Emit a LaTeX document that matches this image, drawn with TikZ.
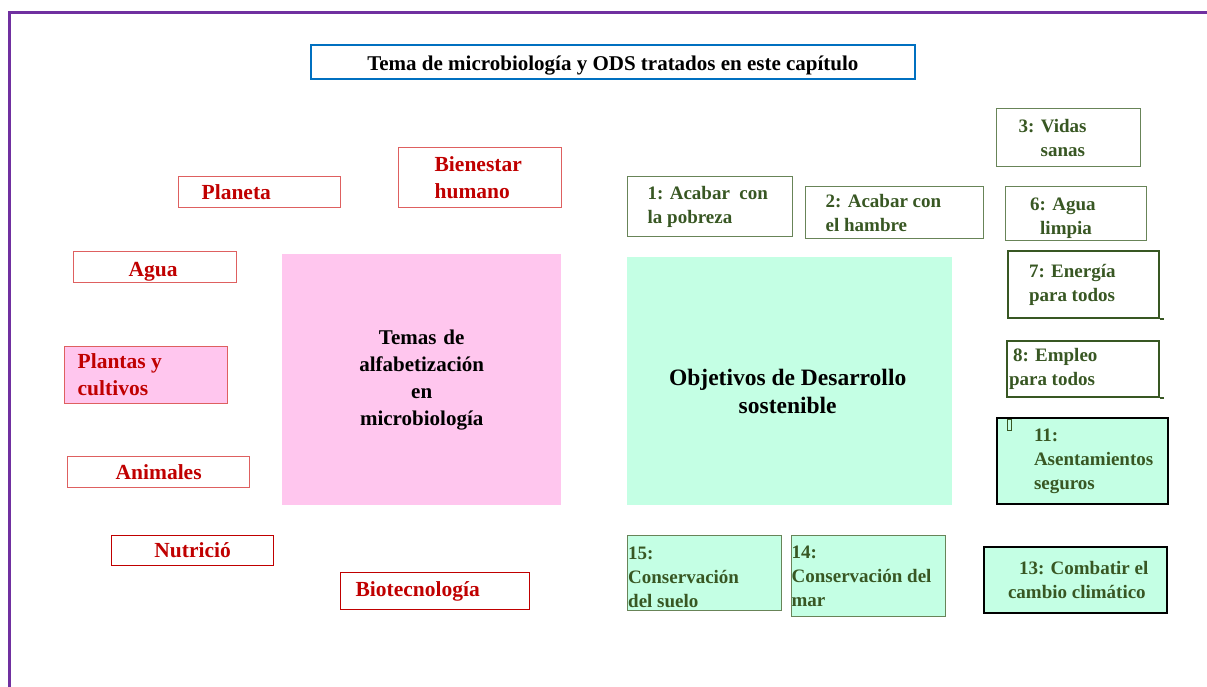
\documentclass[tikz,border=0pt]{standalone}
\usepackage{fontspec}
\setmainfont{Liberation Serif}
\usetikzlibrary{calc}
\definecolor{frame}{RGB}{112,48,160}
\definecolor{titleblue}{RGB}{0,112,192}
\definecolor{redtxt}{RGB}{192,0,0}
\definecolor{redline}{RGB}{222,96,96}
\definecolor{pinkfill}{RGB}{255,198,238}
\definecolor{mint}{RGB}{196,255,228}
\definecolor{greentxt}{RGB}{56,87,35}
\definecolor{greenline}{RGB}{104,132,88}
\tikzset{
  box/.style={draw, rectangle, anchor=north west, inner sep=0pt, font=\bfseries},
  txt/.style={inner sep=0pt, font=\bfseries},
  redfont/.style={text=redtxt, font=\fontsize{21.5}{27}\selectfont\bfseries},
  redbox/.style={box, draw=redline, line width=1.3pt, redfont},
  darkredbox/.style={redbox, draw=redtxt},
  greenfont/.style={text=greentxt, font=\fontsize{19}{24}\selectfont\bfseries},
  greenbox/.style={box, draw=greenline, line width=1.3pt, greenfont},
  darkgreenbox/.style={greenbox, draw=greentxt, line width=2pt},
  mintbox/.style={greenbox, fill=mint},
  blackmint/.style={greenbox, fill=mint, draw=black, line width=2pt},
  overhang/.style={draw=greentxt, line width=2pt},
}
\begin{document}
\begin{tikzpicture}[x=1pt,y=-1pt]
\useasboundingbox (0,0) rectangle (1207,686);
\begin{scope}
\clip (0,0) rectangle (1207,686);
\draw[frame, line width=3pt] (9,12) rectangle (1230,710);
\end{scope}
% title
\node[box, draw=titleblue, line width=1.8pt, minimum width=604pt, minimum height=34pt] (title) at (310,44) {};
\node[txt, font=\fontsize{21}{26}\selectfont\bfseries] (titletext) at ($(title.center)+(0,4)$) {Tema de microbiología y ODS tratados en este capítulo};
% left red boxes
\node[redbox, minimum width=162pt, minimum height=31pt, text width=162pt, align=flush left] (planeta) at (178,176) {\hspace*{23pt}Planeta};
\node[redbox, minimum width=163pt, minimum height=60pt, text width=163pt, align=flush left] (bienestar) at (398,147) {\hspace*{36pt}Bienestar\\\hspace*{36pt}humano};
\node[redbox, minimum width=163pt, minimum height=31pt] (agua) at (73,251) {};
\node[txt, redfont] (aguatext) at ($(agua.center)+(-2,5)$) {Agua};
\node[redbox, fill=pinkfill, minimum width=163pt, minimum height=57pt, text width=163pt, align=flush left] (plantas) at (64,346) {\hspace*{13pt}Plantas y\\\hspace*{13pt}cultivos};
\node[redbox, minimum width=182pt, minimum height=31pt, text width=182pt, align=center] (animales) at (67,456) {Animales};
\node[darkredbox, minimum width=162pt, minimum height=30pt, text width=162pt, align=center] (nutricio) at (111,535) {Nutrició};
\node[darkredbox, minimum width=189pt, minimum height=37pt, text width=189pt, align=flush left] (biotec) at (340,572) {\hspace*{15pt}Biotecnología};
% central boxes
\node[box, draw=none, fill=pinkfill, minimum width=279pt, minimum height=251pt, text width=279pt, align=center, font=\fontsize{21}{27}\selectfont\bfseries] (temas) at (282,254) {Temas de\\alfabetización\\en\\microbiología};
\node[box, draw=none, fill=mint, minimum width=325pt, minimum height=248pt] (ods) at (627,257) {};
\node[txt, align=center, font=\fontsize{23.5}{28}\selectfont\bfseries] (odstext) at ($(ods.center)+(-2,10)$) {Objetivos de Desarrollo\\sostenible};
% green boxes
\node[greenbox, minimum width=165pt, minimum height=60pt, text width=165pt, align=flush left] (g1) at (627,176) {\hspace*{20pt}1: Acabar\ \ con\\\hspace*{20pt}la pobreza};
\node[greenbox, minimum width=178pt, minimum height=52pt, text width=178pt, align=flush left] (g2) at (805,186) {\hspace*{20pt}2: Acabar con\\\hspace*{20pt}el hambre};
\node[greenbox, minimum width=144pt, minimum height=58pt, text width=144pt, align=flush left] (g3) at (996,108) {\hspace*{22pt}3: Vidas\\\hspace*{44pt}sanas};
\node[greenbox, minimum width=141pt, minimum height=54pt] (g6) at (1005,186) {};
\node[txt, greenfont, anchor=west, align=flush left] (g6text) at ($(g6.west)+(25,5)$) {6: Agua\\\hspace*{10pt}limpia};
\node[darkgreenbox, minimum width=151pt, minimum height=67pt, text width=151pt, align=flush left] (g7) at (1007,250) {\hspace*{21pt}7: Energía\\\hspace*{21pt}para todos};
\coordinate (g7end) at ($(g7.south east)+(4,0)$);
\draw[overhang] (g7.south east) -- (g7end);
\node[darkgreenbox, minimum width=152pt, minimum height=56pt, text width=152pt, align=flush left] (g8) at (1006,340) {\hspace*{6pt}8: Empleo\\\hspace*{2pt}para todos};
\coordinate (g8end) at ($(g8.south east)+(4,0)$);
\draw[overhang] (g8.south east) -- (g8end);
\node[blackmint, minimum width=171pt, minimum height=86pt, text width=171pt, align=flush left] (g11) at (996,417) {\hspace*{37pt}11:\\\hspace*{37pt}Asentamientos\\\hspace*{37pt}seguros};
\node[draw=greentxt, line width=1pt, anchor=north west, minimum width=4pt, minimum height=11pt, inner sep=0pt] (mark) at (1007,419) {};
\node[blackmint, minimum width=183pt, minimum height=66pt, text width=183pt, align=flush left] (g13) at (983,546) {\hspace*{35pt}13: Combatir el\\\hspace*{24pt}cambio climático};
\node[mintbox, minimum width=154pt, minimum height=75pt] (g15) at (627,535) {};
\node[txt, greenfont, anchor=west, align=flush left] (g15text) at ($(g15.west)+(1,4)$) {15:\\Conservación\\del suelo};
\node[mintbox, minimum width=154pt, minimum height=81pt, text width=154pt, align=flush left] (g14) at (791,535) {14:\\Conservación del\\mar};
\end{tikzpicture}
\end{document}
